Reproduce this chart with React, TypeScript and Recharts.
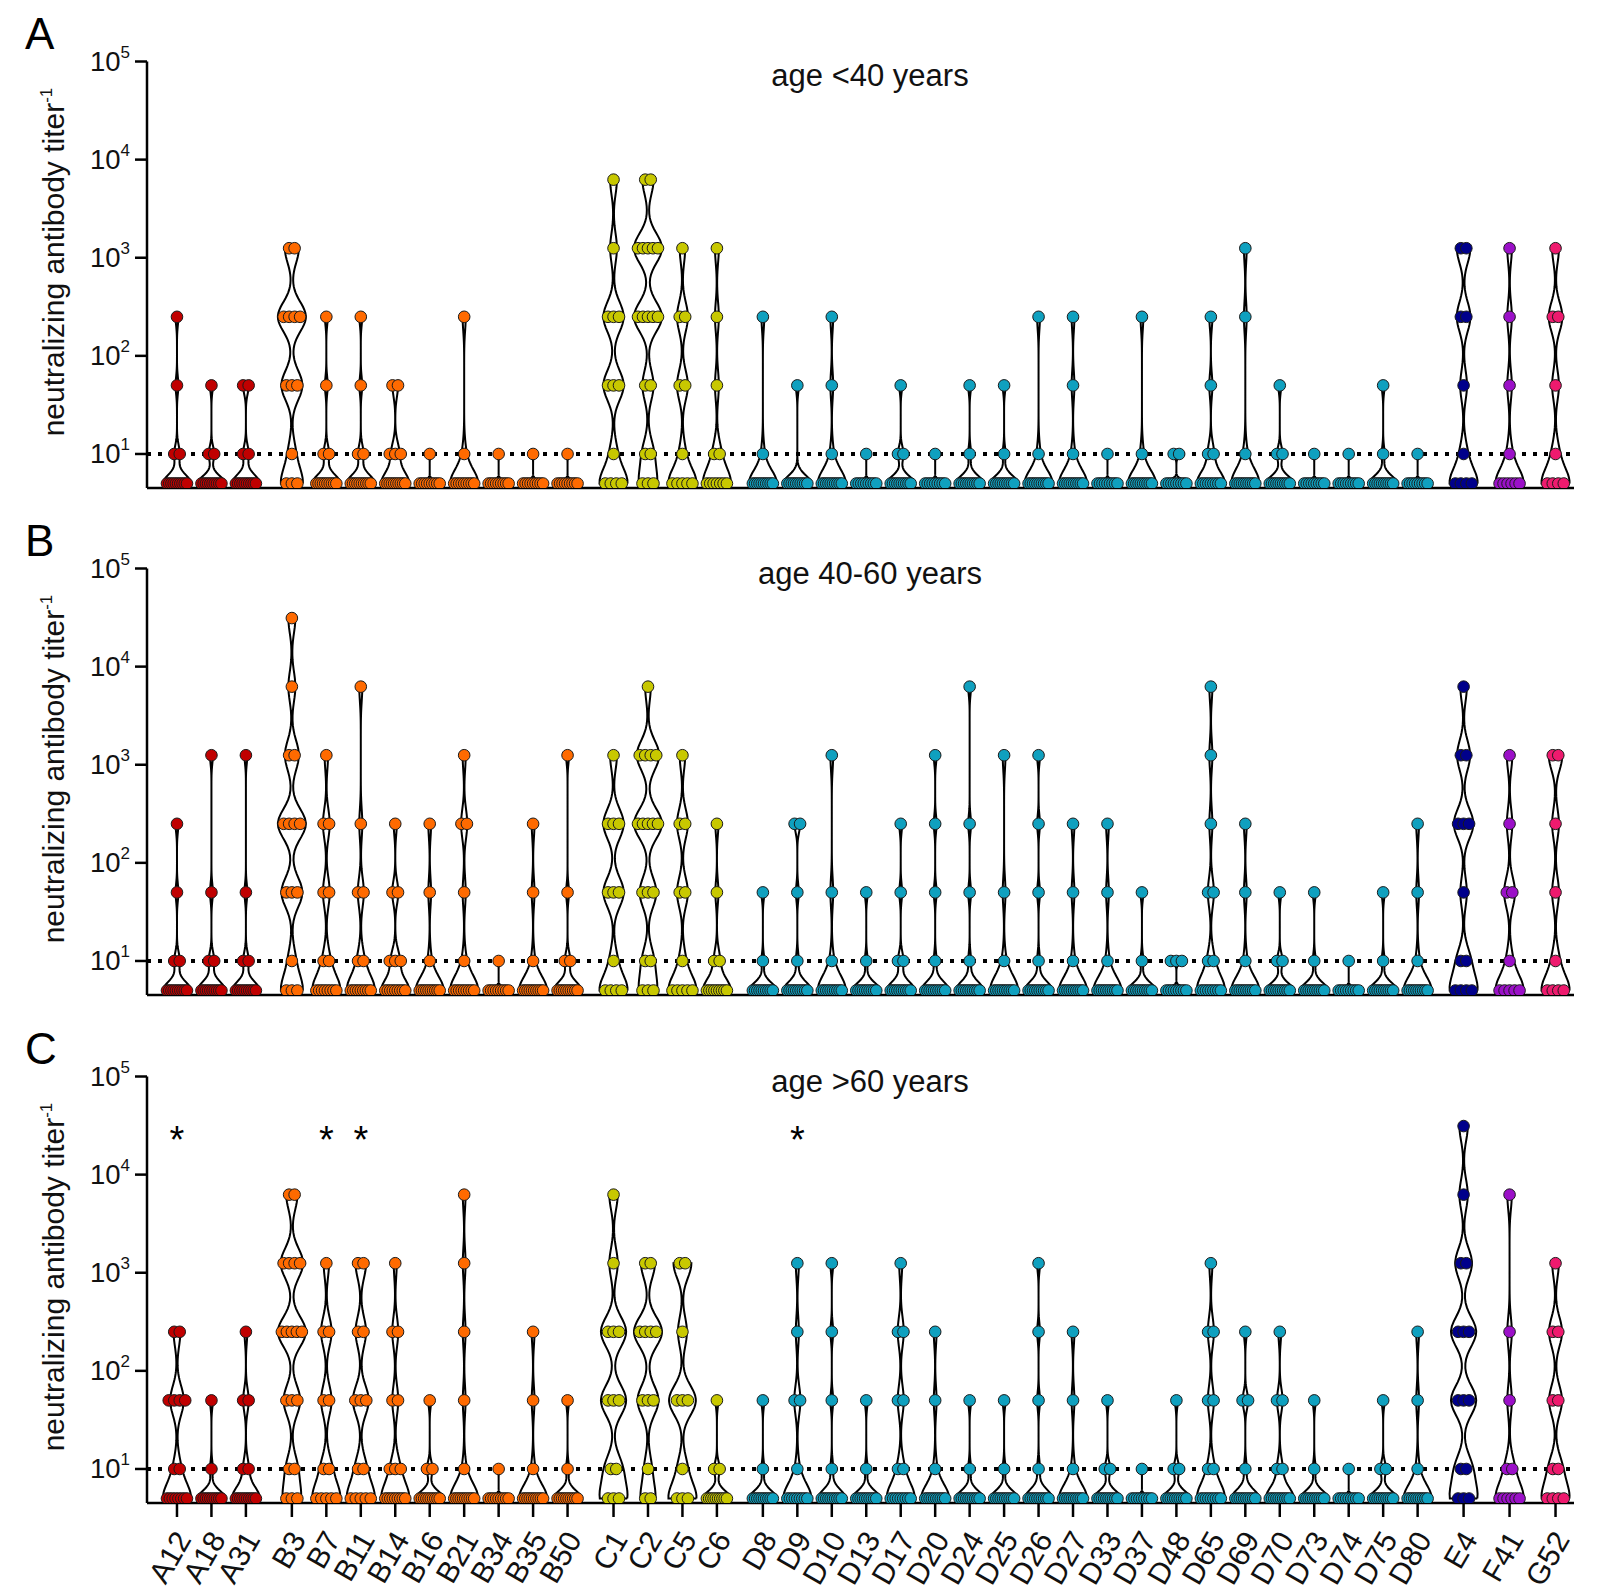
import React from 'react';
import { ComposedChart, Line, Scatter, XAxis, YAxis, ReferenceLine } from 'recharts';

// serotypes on the x axis
const categories = [
  'A12', 'A18', 'A31',
  'B3', 'B7', 'B11', 'B14', 'B16', 'B21', 'B34', 'B35', 'B50',
  'C1', 'C2', 'C5', 'C6',
  'D8', 'D9', 'D10', 'D13', 'D17', 'D20', 'D24', 'D25', 'D26', 'D27',
  'D33', 'D37', 'D48', 'D65', 'D69', 'D70', 'D73', 'D74', 'D75', 'D80',
  'E4', 'F41', 'G52',
];

// fivefold titer steps, titers <10 plotted at 5
const titerLevels = [5, 10, 50, 250, 1250, 6250, 31250];

// number of sera at each titer level (same order as titerLevels)
const countsUnder40 = [
  [10, 2, 1, 1], [10, 2, 1], [10, 2, 2],
  [3, 1, 3, 4, 2], [10, 2, 1, 1], [10, 2, 1, 1], [10, 3, 2], [9, 1], [9, 1, 0, 1], [9, 1], [9, 1], [9, 1],
  [4, 1, 3, 3, 1, 1], [3, 2, 2, 5, 5, 2], [5, 1, 2, 2, 1], [7, 2, 1, 1, 1],
  [10, 1, 0, 1], [10, 0, 1], [10, 1, 1, 1], [9, 1], [10, 2, 1], [9, 1], [10, 1, 1], [10, 1, 1], [10, 1, 0, 1], [10, 1, 1, 1],
  [9, 1], [10, 1, 0, 1], [9, 2], [9, 2, 1, 1], [10, 1, 0, 1, 1], [10, 2, 1], [9, 1], [9, 1], [10, 1, 1], [9, 1],
  [4, 1, 1, 2, 2], [6, 1, 1, 1, 1], [4, 1, 1, 2, 1],
];

const counts40to60 = [
  [10, 2, 1, 1], [10, 2, 1, 0, 1], [10, 2, 1, 0, 1],
  [3, 1, 3, 4, 2, 1, 1], [8, 2, 2, 2, 1], [9, 2, 2, 1, 0, 1], [9, 3, 2, 1], [10, 1, 1, 1], [9, 1, 1, 2, 1], [9, 1], [10, 1, 1, 1], [10, 2, 1, 0, 1],
  [4, 1, 3, 3, 1], [3, 2, 3, 5, 4, 1], [5, 1, 2, 2, 1], [9, 2, 1, 1],
  [10, 1, 1], [10, 1, 1, 2], [10, 1, 1, 0, 1], [10, 1, 1], [10, 2, 1, 1], [10, 1, 1, 1, 1], [10, 1, 1, 1, 0, 1], [10, 1, 1, 0, 1], [10, 1, 1, 1, 1], [10, 1, 1, 1],
  [10, 1, 1, 1], [10, 1, 1], [9, 3], [9, 2, 2, 1, 1, 1], [10, 1, 1, 1], [10, 2, 1], [10, 1, 1], [9, 1], [10, 1, 1], [10, 1, 1, 1],
  [4, 2, 1, 3, 2, 1], [5, 1, 2, 1, 1], [4, 1, 1, 1, 2],
];

const countsOver60 = [
  [8, 2, 4, 2], [10, 1, 1], [10, 2, 2, 1],
  [3, 2, 3, 5, 4, 2], [5, 2, 2, 2, 1], [5, 2, 3, 2, 2], [9, 3, 2, 2, 1], [10, 2, 1], [10, 1, 1, 1, 1, 1], [9, 1], [10, 1, 1, 1], [10, 1, 1],
  [3, 2, 3, 3, 1, 1], [2, 1, 3, 4, 2], [3, 1, 3, 1, 2], [10, 2, 1],
  [10, 1, 1], [9, 1, 2, 1, 1], [10, 1, 1, 1, 1], [10, 1, 1], [9, 2, 2, 2, 1], [10, 1, 1, 1], [10, 1, 1], [10, 1, 1], [10, 1, 1, 1, 1], [10, 1, 1, 1],
  [10, 2, 1], [9, 1], [10, 2, 1], [9, 2, 2, 2, 1], [10, 1, 2, 1], [10, 2, 2, 1], [10, 1, 1], [9, 1], [10, 2, 1], [10, 1, 1, 1],
  [3, 2, 3, 3, 2, 1, 1], [6, 2, 1, 1, 0, 1], [4, 2, 2, 2, 1],
];

const starredOver60 = ['A12', 'B7', 'B11', 'D9'];
const starTiter = 27000;
const detectionLimit = 10;
const yTicks = [10, 100, 1000, 10000, 100000];

const speciesColors: Record<string, string> = {
  A: '#c00000',
  B: '#ff6a00',
  C: '#c8c800',
  D: '#0fa0bf',
  E: '#00008b',
  F: '#9b10c8',
  G: '#ee1a6e',
};

const FONT = '"Liberation Sans", Arial, Helvetica, sans-serif';
const PANEL_W = 1614;
const Y_AXIS_W = 147;
const RIGHT_M = 40;
const TOP_M = 61.5;
const X_MIN = -0.87;
const X_MAX = 40.54;
const PX = (PANEL_W - Y_AXIS_W - RIGHT_M) / (X_MAX - X_MIN);
const GROUP_GAP = 0.334;

// x position of each serotype, with a small gap between species
const xPos = (() => {
  let g = 0;
  return categories.map((c, i) => {
    if (i > 0 && c[0] !== categories[i - 1][0]) g++;
    return i + g * GROUP_GAP;
  });
})();

function expand(counts: number[]) {
  const out: number[] = [];
  counts.forEach((c, i) => {
    for (let k = 0; k < c; k++) out.push(Math.log10(titerLevels[i]));
  });
  return out;
}

// kernel density outline in log space, closed, followed by a gap point
function violinOutline(counts: number[], x0: number) {
  const v = expand(counts);
  const n = v.length;
  const mean = v.reduce((a, b) => a + b, 0) / n;
  const sd = Math.sqrt(v.reduce((a, b) => a + (b - mean) ** 2, 0) / Math.max(1, n - 1));
  const q = (p: number) => {
    const idx = p * (n - 1);
    const lo = Math.floor(idx);
    const hi = Math.ceil(idx);
    return v[lo] + (v[hi] - v[lo]) * (idx - lo);
  };
  const iqr = q(0.75) - q(0.25);
  const spread = iqr > 0 ? Math.min(sd, iqr / 1.34) : sd * 0.5;
  const h = Math.min(0.15, Math.max(0.02, 0.9 * spread * Math.pow(n, -0.2)));
  const lo = v[0];
  const hi = v[n - 1];
  const N = 80;
  const grid = Array.from({ length: N + 1 }, (_, i) => lo + ((hi - lo) * i) / N);
  titerLevels.forEach((t) => {
    const l = Math.log10(t);
    if (l > lo && l < hi) grid.push(l);
  });
  grid.sort((a, b) => a - b);
  const dens = grid.map((t) => v.reduce((s, li) => s + Math.exp(-((t - li) ** 2) / (2 * h * h)), 0));
  const dmax = Math.max(...dens);
  const halfW = 14 / PX;
  const pts: { x: number; y: number | null }[] = [];
  grid.forEach((t, i) => pts.push({ x: x0 + (halfW * dens[i]) / dmax, y: Math.pow(10, t) }));
  for (let i = grid.length - 1; i >= 0; i--) pts.push({ x: x0 - (halfW * dens[i]) / dmax, y: Math.pow(10, grid[i]) });
  pts.push({ ...pts[0] });
  pts.push({ x: x0, y: null });
  return pts;
}

function dotPoints(counts: number[], x0: number, group: string) {
  const out: { x: number; y: number; g: string }[] = [];
  counts.forEach((c, i) => {
    const step = c > 1 ? Math.min(5.5, 20 / (c - 1)) : 0;
    for (let k = 0; k < c; k++) {
      out.push({ x: x0 + ((k - (c - 1) / 2) * step) / PX, y: titerLevels[i], g: group });
    }
  });
  return out;
}

const PowerTick = (props: any) => {
  const { x, y, payload } = props;
  const exp = Math.round(Math.log10(payload.value));
  return (
    <text x={x - 3} y={y + 9.5} textAnchor="end" fontSize={27.5} fontFamily={FONT} fill="#111">
      10<tspan dy={-13} fontSize={17}>{exp}</tspan>
    </text>
  );
};

const CategoryTick = (props: any) => {
  const { x, y, payload } = props;
  const idx = xPos.findIndex((p) => Math.abs(p - payload.value) < 1e-6);
  return (
    <text
      transform={`translate(${x + 6},${y + 15}) rotate(-60)`}
      textAnchor="end"
      dy="0.35em"
      fontSize={30}
      fontFamily={FONT}
      fill="#111"
    >
      {categories[idx]}
    </text>
  );
};

const axisStyle = { stroke: '#000', strokeWidth: 2.5 };
const groups = Object.keys(speciesColors);

function Panel({ counts, top, title, titleY, letter, showLabels, stars }: any) {
  const height = showLabels ? 577 : 507;
  const outline = categories.flatMap((c, i) => violinOutline(counts[i], xPos[i]));
  const dots = categories.flatMap((c, i) => dotPoints(counts[i], xPos[i], c[0]));
  const starData = (stars || []).map((s: string) => ({ x: xPos[categories.indexOf(s)], y: starTiter }));

  return (
    <div style={{ position: 'absolute', left: 0, top, width: PANEL_W, height }}>
      <ComposedChart width={PANEL_W} height={height} margin={{ top: TOP_M, right: RIGHT_M, bottom: 0, left: 0 }}>
        <XAxis
          type="number"
          dataKey="x"
          domain={[X_MIN, X_MAX]}
          ticks={xPos}
          interval={0}
          allowDataOverflow
          height={showLabels ? 89 : 19}
          axisLine={axisStyle}
          tickLine={axisStyle}
          tickSize={14}
          tick={showLabels ? <CategoryTick /> : false}
        />
        <YAxis
          type="number"
          dataKey="y"
          scale="log"
          domain={[4.5, 100000]}
          allowDataOverflow
          ticks={yTicks}
          interval={0}
          width={Y_AXIS_W}
          axisLine={axisStyle}
          tickLine={axisStyle}
          tickSize={12}
          tick={<PowerTick />}
        />
        <Line
          data={outline}
          dataKey="y"
          type="linear"
          stroke="#000"
          strokeWidth={2}
          dot={false}
          activeDot={false}
          connectNulls={false}
          isAnimationActive={false}
        />
        {groups.map((g) => (
          <Scatter
            key={g}
            data={dots.filter((d) => d.g === g)}
            isAnimationActive={false}
            shape={(p: any) => (
              <circle cx={p.cx} cy={p.cy} r={5.8} fill={speciesColors[g]} stroke="#1a1a1a" strokeWidth={1} />
            )}
          />
        ))}
        {starData.length > 0 && (
          <Scatter
            data={starData}
            isAnimationActive={false}
            shape={(p: any) => (
              <text x={p.cx} y={p.cy + 21} textAnchor="middle" fontSize={38} fontFamily={FONT} fill="#000">
                *
              </text>
            )}
          />
        )}
        <ReferenceLine y={detectionLimit} stroke="#000" strokeWidth={4} strokeDasharray="4 7" />
      </ComposedChart>
      <svg width={PANEL_W} height={height} style={{ position: 'absolute', left: 0, top: 0, pointerEvents: 'none' }}>
        <text x={25} y={49} fontSize={44} fontFamily={FONT} fill="#000">
          {letter}
        </text>
        <text x={870} y={titleY} textAnchor="middle" fontSize={31} fontFamily={FONT} fill="#111">
          {title}
        </text>
        <text
          transform="translate(64,262) rotate(-90)"
          textAnchor="middle"
          fontSize={30}
          fontFamily={FONT}
          fill="#111"
        >
          neutralizing antibody titer<tspan dy={-12} fontSize={17}>-1</tspan>
        </text>
      </svg>
    </div>
  );
}

export default function App() {
  return (
    <div
      style={{
        position: 'absolute',
        left: 0,
        top: 0,
        width: 1614,
        height: 1592,
        background: '#fff',
        fontFamily: FONT,
        overflow: 'hidden',
      }}
    >
      <Panel counts={countsUnder40} top={0} title="age <40 years" titleY={86} letter="A" showLabels={false} />
      <Panel counts={counts40to60} top={507} title="age 40-60 years" titleY={77} letter="B" showLabels={false} />
      <Panel
        counts={countsOver60}
        top={1015}
        title="age >60 years"
        titleY={77}
        letter="C"
        showLabels
        stars={starredOver60}
      />
    </div>
  );
}
